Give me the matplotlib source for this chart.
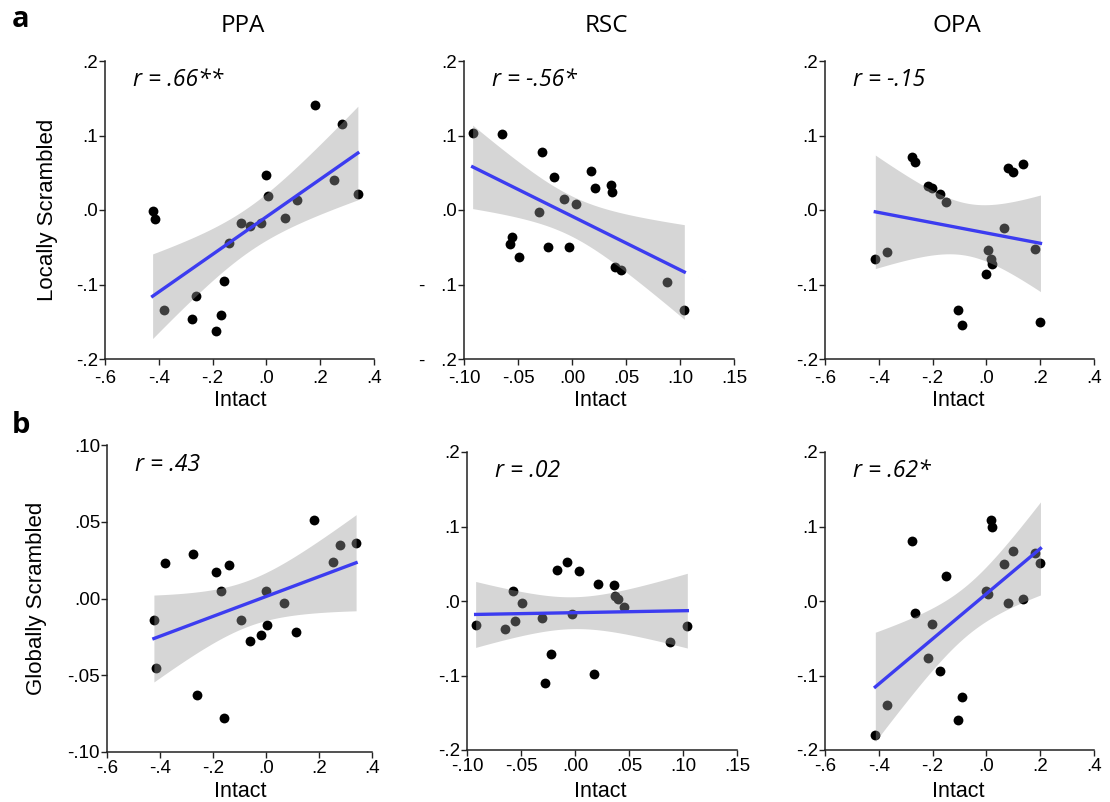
import matplotlib
matplotlib.use("Agg")
import matplotlib.pyplot as plt
import numpy as np

plt.rcParams['font.family'] = 'Liberation Sans'

# Intact-condition values per ROI (same subjects in both rows)
ppa_intact = [-0.423, -0.415, -0.380, -0.276, -0.260, -0.188, -0.168, -0.157, -0.140, -0.096,
              -0.062, -0.019, 0.000, 0.005, 0.068, 0.114, 0.180, 0.252, 0.281, 0.340]
rsc_intact = [-0.092, -0.065, -0.057, -0.056, -0.049, -0.031, -0.028, -0.022, -0.017, -0.007,
              -0.003, 0.004, 0.018, 0.021, 0.036, 0.037, 0.040, 0.045, 0.088, 0.104]
opa_intact = [-0.413, -0.369, -0.276, -0.266, -0.218, -0.204, -0.171, -0.152, -0.107, -0.090,
              -0.003, 0.005, 0.018, 0.019, 0.066, 0.082, 0.100, 0.136, 0.182, 0.201]

# row a: locally scrambled
ppa_local = [-0.002, -0.012, -0.134, -0.146, -0.116, -0.162, -0.141, -0.095, -0.044, -0.017,
             -0.022, -0.017, 0.047, 0.019, -0.011, 0.014, 0.141, 0.040, 0.115, 0.021]
rsc_local = [0.104, 0.102, -0.046, -0.036, -0.063, -0.003, 0.078, -0.050, 0.044, 0.015,
             -0.049, 0.008, 0.052, 0.030, 0.034, 0.024, -0.076, -0.080, -0.096, -0.134]
opa_local = [-0.066, -0.056, 0.071, 0.065, 0.032, 0.029, 0.022, 0.011, -0.134, -0.154,
             -0.086, -0.054, -0.066, -0.073, -0.024, 0.057, 0.051, 0.062, -0.053, -0.151]

# row b: globally scrambled
ppa_global = [-0.014, -0.045, 0.023, 0.029, -0.063, 0.017, 0.005, -0.078, 0.022, -0.014,
              -0.028, -0.024, 0.005, -0.017, -0.003, -0.022, 0.051, 0.024, 0.035, 0.036]
rsc_global = [-0.032, -0.037, 0.014, -0.027, -0.003, -0.023, -0.110, -0.071, 0.042, 0.052,
              -0.018, 0.040, -0.098, 0.023, 0.021, 0.007, 0.003, -0.008, -0.055, -0.034]
opa_global = [-0.180, -0.139, 0.080, -0.016, -0.076, -0.031, -0.094, 0.034, -0.160, -0.129,
              0.013, 0.009, 0.109, 0.100, 0.049, -0.003, 0.067, 0.003, 0.065, 0.051]

r_labels_a = ['r = .66**', 'r = -.56*', 'r = -.15']
r_labels_b = ['r = .43', 'r = .02', 'r = .62*']
rois = ['PPA', 'RSC', 'OPA']

wide_ticks = [-0.6, -0.4, -0.2, 0.0, 0.2, 0.4]
wide_labels = ['-.6', '-.4', '-.2', '.0', '.2', '.4']
narrow_ticks = [-0.10, -0.05, 0.00, 0.05, 0.10, 0.15]
narrow_labels = ['-.10', '-.05', '.00', '.05', '.10', '.15']
y_ticks = [-0.2, -0.1, 0.0, 0.1, 0.2]
y_labels = ['-.2', '-.1', '.0', '.1', '.2']
y_labels_gap = ['-   .2', '-   .1', '.0', '.1', '.2']
yb_ticks = [-0.10, -0.05, 0.00, 0.05, 0.10]
yb_labels = ['-.10', '-.05', '.00', '.05', '.10']

T_CRIT = 2.1009  # t(0.975, df=18)
W, H = 1110, 802
TICK_FS = 13.5


def px_axes(left, top, right, bottom):
    return fig.add_axes([left / W, 1 - bottom / H, (right - left) / W, (bottom - top) / H])


def panel(ax, x, y, xticks, xlabels, yticks, ylabels, r_text, xpad=2):
    x = np.asarray(x)
    y = np.asarray(y)
    ax.scatter(x, y, s=50, color='black', zorder=2, linewidths=0)
    slope, icpt = np.polyfit(x, y, 1)
    xs = np.linspace(x.min(), x.max(), 100)
    fit = slope * xs + icpt
    n = len(x)
    resid = y - (slope * x + icpt)
    s = np.sqrt(np.sum(resid ** 2) / (n - 2))
    se = s * np.sqrt(1 / n + (xs - x.mean()) ** 2 / np.sum((x - x.mean()) ** 2))
    ax.fill_between(xs, fit - T_CRIT * se, fit + T_CRIT * se, color='#999999', alpha=0.4,
                    linewidth=0, zorder=3)
    ax.plot(xs, fit, color='#3c3cf0', lw=2.4, zorder=4)
    ax.set_xlim(xticks[0], xticks[-1])
    ax.set_ylim(yticks[0], yticks[-1])
    ax.set_xticks(xticks)
    ax.set_xticklabels(xlabels, fontsize=TICK_FS)
    ax.set_yticks(yticks)
    ax.set_yticklabels(ylabels, fontsize=TICK_FS)
    for side in ['top', 'right']:
        ax.spines[side].set_visible(False)
    for side in ['left', 'bottom']:
        ax.spines[side].set_color('#222222')
        ax.spines[side].set_linewidth(1.1)
    ax.tick_params(direction='out', length=4, width=1, color='#222222', pad=1)
    ax.tick_params(axis='x', pad=xpad)
    ax.text(0.105, 0.915, r_text, transform=ax.transAxes, fontsize=16.5,
            family='Open Sans', style='italic', ha='left', va='baseline')


fig = plt.figure(figsize=(W / 100, H / 100), dpi=100)

# row a
ax = px_axes(105, 61, 374, 359)
panel(ax, ppa_intact, ppa_local, wide_ticks, wide_labels, y_ticks, y_labels, r_labels_a[0], 4)
ax = px_axes(464, 61, 734, 359)
panel(ax, rsc_intact, rsc_local, narrow_ticks, narrow_labels, y_ticks, y_labels_gap, r_labels_a[1], 4)
ax = px_axes(825, 61, 1094, 359)
panel(ax, opa_intact, opa_local, wide_ticks, wide_labels, y_ticks, y_labels, r_labels_a[2], 4)

# row b
ax = px_axes(107, 445, 372, 752)
panel(ax, ppa_intact, ppa_global, wide_ticks, wide_labels, yb_ticks, yb_labels, r_labels_b[0])
ax = px_axes(467, 452, 737, 750)
panel(ax, rsc_intact, rsc_global, narrow_ticks, narrow_labels, y_ticks, y_labels, r_labels_b[1])
ax = px_axes(825, 452, 1094, 750)
panel(ax, opa_intact, opa_global, wide_ticks, wide_labels, y_ticks, y_labels, r_labels_b[2])

# titles, axis labels and panel letters
for roi, cx in zip(rois, [243, 606, 957]):
    fig.text(cx / W, 1 - 32 / H, roi, fontsize=17.5, family='Open Sans',
             ha='center', va='baseline')
for cx in [240, 600, 958]:
    fig.text(cx / W, 1 - 406 / H, 'Intact', fontsize=15.5, ha='center', va='baseline')
    fig.text(cx / W, 1 - 797 / H, 'Intact', fontsize=15.5, ha='center', va='baseline')
fig.text(48 / W, 1 - 210 / H, 'Locally Scrambled', fontsize=16, rotation=90,
         ha='center', va='center')
fig.text(37 / W, 1 - 598 / H, 'Globally Scrambled', fontsize=16, rotation=90,
         ha='center', va='center')
fig.text(12 / W, 1 - 27 / H, 'a', fontsize=21, family='Open Sans', weight='bold',
         ha='left', va='baseline')
fig.text(12 / W, 1 - 433 / H, 'b', fontsize=21, family='Open Sans', weight='bold',
         ha='left', va='baseline')

fig.savefig("out.png", dpi=100)
